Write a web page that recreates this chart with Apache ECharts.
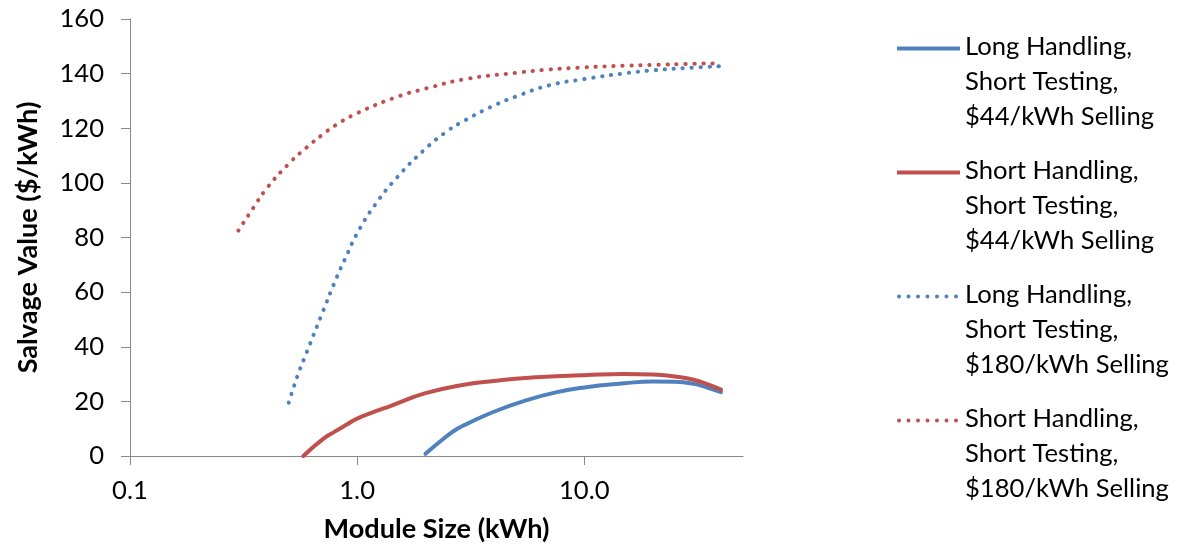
<!DOCTYPE html>
<html>
<head>
<meta charset="utf-8">
<script src="https://cdn.jsdelivr.net/npm/echarts@6/dist/echarts.min.js"></script>
<style>
  html, body { margin: 0; padding: 0; background: #fff; }
  #chart { width: 1179px; height: 548px; }
</style>
</head>
<body>
<div id="chart"></div>
<script>
// ---- Data ----
const seriesNames = [
  'Long Handling,\nShort Testing,\n$44/kWh Selling',
  'Short Handling,\nShort Testing,\n$44/kWh Selling',
  'Long Handling,\nShort Testing,\n$180/kWh Selling',
  'Short Handling,\nShort Testing,\n$180/kWh Selling'
];

// Long Handling, $44/kWh (solid blue)
const xLong44 = [2, 2.5, 2.75, 3, 4, 5.5, 7.5, 10, 15, 20, 25, 30, 35, 40];
const yLong44 = [0.8, 7.5, 9.9, 11.5, 16.2, 20.3, 23.3, 25.1, 26.6, 27.3, 27.2, 26.5, 25.0, 23.4];

// Short Handling, $44/kWh (solid red)
const xShort44 = [0.58, 0.7, 0.8, 0.9, 1.0, 1.2, 1.4, 2, 3, 4, 5.5, 7.5, 10, 15, 20, 25, 30, 35, 40];
const yShort44 = [0, 5.9, 9.0, 11.5, 13.7, 16.3, 18.3, 23.0, 26.2, 27.5, 28.6, 29.2, 29.6, 30.0, 29.8, 29.1, 28.0, 26.2, 24.3];

// Long Handling, $180/kWh (dotted blue)
const xLong180 = [0.5, 0.55, 0.6, 0.7, 0.8, 0.9, 1.0, 1.2, 1.5, 2, 2.5, 3, 4, 5, 7, 10, 15, 20, 30, 40];
const yLong180 = [19.5, 30, 38, 52, 64, 73.5, 81.5, 92, 102, 112.5, 119, 123, 128.3, 131.6, 135.7, 138, 140.1, 141.2, 142.2, 142.7];

// Short Handling, $180/kWh (dotted red)
const xShort180 = [0.3, 0.35, 0.4, 0.5, 0.6, 0.7, 0.8, 1.0, 1.5, 2, 3, 5, 7, 10, 15, 20, 30, 40];
const yShort180 = [82.5, 91, 98, 107, 113, 117.5, 121, 125.5, 131.5, 134.5, 138, 140.3, 141.5, 142.3, 142.9, 143.2, 143.6, 143.8];

const xTickValues = [0.1, 1, 10];
const yTickMin = 0, yTickMax = 160, yTickStep = 20;

// ---- Styling helpers ----
const BLUE = '#4F81BD';
const RED = '#C0504D';
const FONT = 'Lato';

function fitSize(text, weight, target) {
  const ctx = document.createElement('canvas').getContext('2d');
  ctx.font = weight + ' 100px ' + FONT;
  return 100 * target / ctx.measureText(text).width;
}
const legendSize = fitSize('$180/kWh Selling', 'normal', 204);
const tickSize = legendSize;
const titleSize = fitSize('Module Size (kWh)', 'bold', 226);

function zip(xs, ys) { return xs.map((x, i) => [x, ys[i]]); }

// Legend icons: the mark sits at the top of a tall (invisible) box so that it
// lines up with the first line of the three-line label.
const SPACER = 'M62.99,68h0.01v0.01h-0.01Z';
const SOLID_ICON = 'path://M0,-2H63V2H0Z' + SPACER;
let dots = '';
for (let i = 0; i < 7; i++) {
  const cx = 2 + i * 9.5;
  dots += 'M' + (cx - 2) + ',0a2,2 0 1,0 4,0a2,2 0 1,0 -4,0Z';
}
const DOT_ICON = 'path://' + dots + 'M0,-2h0.01v0.01h-0.01Z' + SPACER;

const chart = echarts.init(document.getElementById('chart'), null, { renderer: 'canvas' });

const dotted = [0.3, 8.7];

chart.setOption({
  animation: false,
  backgroundColor: '#fff',
  textStyle: { fontFamily: FONT },
  grid: { left: 130, right: 436, top: 19, bottom: 91, containLabel: false },
  legend: {
    orient: 'vertical',
    left: 892,
    top: 24,
    itemWidth: 63,
    itemHeight: 70,
    itemGap: 19,
    itemStyle: { borderWidth: 0 },
    data: [
      { name: seriesNames[0], icon: SOLID_ICON },
      { name: seriesNames[1], icon: SOLID_ICON },
      { name: seriesNames[2], icon: DOT_ICON },
      { name: seriesNames[3], icon: DOT_ICON }
    ],
    textStyle: {
      fontFamily: FONT,
      fontSize: legendSize,
      color: '#000',
      lineHeight: 35
    }
  },
  xAxis: {
    type: 'log',
    logBase: 10,
    min: 0.1,
    max: 50,
    name: 'Module Size (kWh)',
    nameLocation: 'middle',
    nameGap: 60,
    nameTextStyle: { fontFamily: FONT, fontWeight: 'bold', fontSize: titleSize, color: '#000' },
    axisLine: { show: true, lineStyle: { color: '#898989', width: 1 } },
    axisTick: { show: true, inside: false, length: 9, lineStyle: { color: '#898989' }, customValues: xTickValues },
    axisLabel: {
      customValues: xTickValues,
      margin: 22,
      fontFamily: FONT,
      fontSize: tickSize,
      color: '#000',
      formatter: v => Number(v).toFixed(1)
    },
    splitLine: { show: false },
    minorTick: { show: false }
  },
  yAxis: {
    type: 'value',
    min: yTickMin,
    max: yTickMax,
    interval: yTickStep,
    name: 'Salvage Value ($/kWh)',
    nameLocation: 'middle',
    nameGap: 88,
    nameTextStyle: { fontFamily: FONT, fontWeight: 'bold', fontSize: titleSize, color: '#000' },
    axisLine: { show: true, lineStyle: { color: '#898989', width: 1 } },
    axisTick: { show: true, inside: false, length: 9, lineStyle: { color: '#898989' } },
    axisLabel: { margin: 26, fontFamily: FONT, fontSize: tickSize, color: '#000' },
    splitLine: { show: false }
  },
  series: [
    {
      name: seriesNames[0], type: 'line', data: zip(xLong44, yLong44),
      symbol: 'none', smooth: 0.5, color: BLUE,
      lineStyle: { color: BLUE, width: 4, cap: 'round', join: 'round' }
    },
    {
      name: seriesNames[1], type: 'line', data: zip(xShort44, yShort44),
      symbol: 'none', smooth: 0.5, color: RED,
      lineStyle: { color: RED, width: 4, cap: 'round', join: 'round' }
    },
    {
      name: seriesNames[2], type: 'line', data: zip(xLong180, yLong180),
      symbol: 'none', smooth: 0.5, color: BLUE,
      lineStyle: { color: BLUE, width: 4, type: dotted, cap: 'round' }
    },
    {
      name: seriesNames[3], type: 'line', data: zip(xShort180, yShort180),
      symbol: 'none', smooth: 0.5, color: RED,
      lineStyle: { color: RED, width: 4, type: dotted, cap: 'round' }
    }
  ]
});
</script>
</body>
</html>
